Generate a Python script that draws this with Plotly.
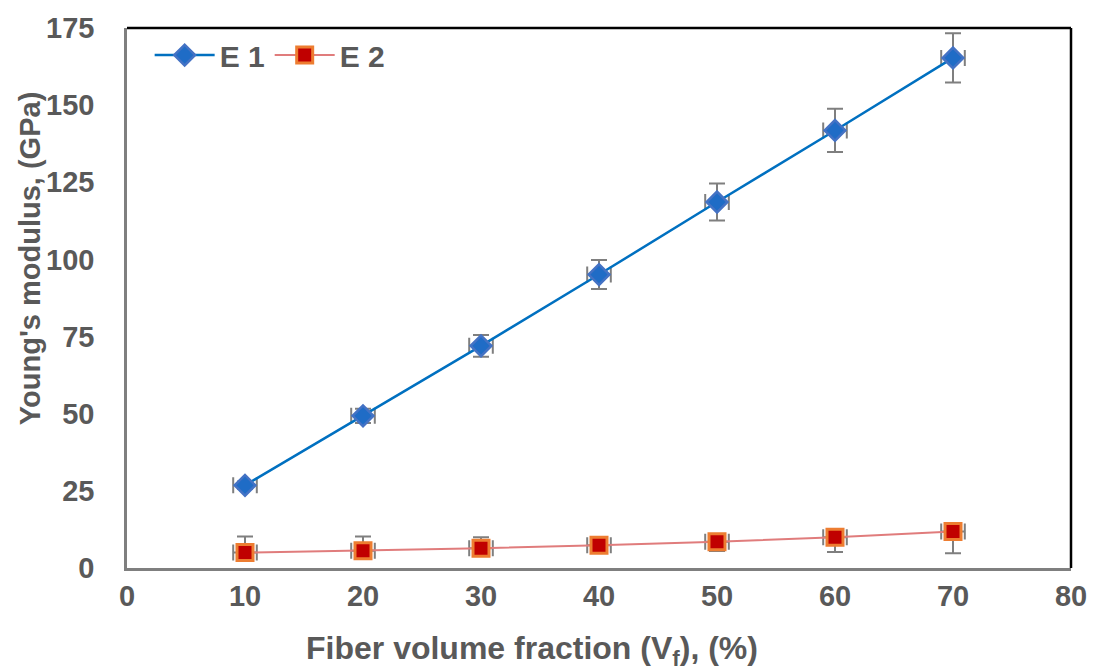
import plotly.graph_objects as go

vf = [10, 20, 30, 40, 50, 60, 70]
e1 = [26.8, 49.3, 72.0, 95.1, 118.6, 141.8, 165.3]
e1_err = [1.2, 2.3, 3.5, 4.7, 6.0, 7.0, 8.0]
e2 = [5.0, 5.6, 6.4, 7.4, 8.5, 10.0, 11.8]
e2_err_plus = [5.2, 4.6, 3.6, 1.0, 1.0, 1.0, 1.0]
e2_err_minus = [1.0, 1.0, 1.0, 1.0, 3.0, 4.8, 7.0]
vf_err = [1.0] * 7
xticks = [0, 10, 20, 30, 40, 50, 60, 70, 80]
yticks = [0, 25, 50, 75, 100, 125, 150, 175]

gray = "#595959"
font = "Liberation Sans, Arial, sans-serif"

fig = go.Figure()
fig.add_trace(go.Scatter(
    x=vf, y=e1, name="<b>E 1</b>", mode="lines+markers",
    line=dict(color="#0070C0", width=2.5),
    marker=dict(symbol="diamond", size=16, color="#1F6CC6",
                line=dict(color="#4472C4", width=2.5)),
    error_y=dict(type="data", array=e1_err, color="#7F7F7F", thickness=2, width=8),
    error_x=dict(type="data", array=vf_err, color="#7F7F7F", thickness=2, width=8),
))
fig.add_trace(go.Scatter(
    x=vf, y=e2, name="<b>E 2</b>", mode="lines+markers",
    line=dict(color="#E07C7C", width=2),
    marker=dict(symbol="square", size=16, color="#C00000",
                line=dict(color="#ED7D31", width=3)),
    error_y=dict(type="data", symmetric=False, array=e2_err_plus, arrayminus=e2_err_minus,
                 color="#7F7F7F", thickness=2, width=8),
    error_x=dict(type="data", array=vf_err, color="#7F7F7F", thickness=2, width=8),
))

fig.update_layout(
    width=1099, height=671,
    margin=dict(l=127, r=24, t=25, b=103),
    plot_bgcolor="white", paper_bgcolor="white",
    font=dict(family=font, color=gray, size=22),
    showlegend=True,
    legend=dict(orientation="h", x=0.024, y=0.998, xanchor="left", yanchor="top",
                font=dict(family=font, size=30, color=gray),
                bgcolor="rgba(0,0,0,0)", itemwidth=60, tracegroupgap=0),
    xaxis=dict(range=[0, 80], tickvals=xticks, ticktext=[f"<b>{t}</b>" for t in xticks],
               showgrid=False, zeroline=False, showline=True, linecolor="#7F7F7F",
               linewidth=2.5, mirror=False, ticks="",
               tickfont=dict(family=font, size=29, color=gray)),
    yaxis=dict(range=[0, 175], tickvals=yticks, ticktext=[f"<b>{t}</b>" for t in yticks],
               showgrid=False, zeroline=False, showline=True, linecolor="#7F7F7F",
               linewidth=2.5, ticks="outside", ticklen=12, tickcolor="rgba(0,0,0,0)",
               ticklabelstandoff=12,
               tickfont=dict(family=font, size=29, color=gray)),
)
# top and right border of plot area
fig.add_shape(type="line", xref="paper", yref="paper", x0=0, x1=1, y0=1, y1=1,
              line=dict(color="black", width=2.5))
fig.add_shape(type="line", xref="paper", yref="paper", x0=1, x1=1, y0=0, y1=1,
              line=dict(color="black", width=2.5))

fig.add_annotation(text="<b>Fiber volume fraction (V<sub>f</sub>), (%)</b>", xref="paper", yref="paper",
                   x=(534 - 127) / 948, y=-(651 - 568) / 543, xanchor="center", yanchor="middle",
                   showarrow=False, font=dict(family=font, size=32, color=gray))
fig.add_annotation(text="<b>Young's modulus, (GPa)</b>", xref="paper", yref="paper",
                   x=-(127 - 29) / 948, y=(568 - 257) / 543, xanchor="center", yanchor="middle",
                   textangle=-90, showarrow=False,
                   font=dict(family=font, size=29, color=gray))

fig.write_html("out.html")
